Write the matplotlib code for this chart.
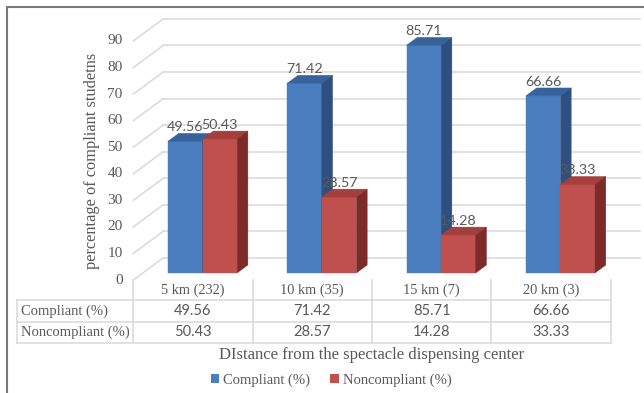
import matplotlib.pyplot as plt
from matplotlib.patches import Polygon, Patch, Rectangle

# data
categories = ['5 km (232)', '10 km (35)', '15 km (7)', '20 km (3)']
compliant = [49.56, 71.42, 85.71, 66.66]
noncompliant = [50.43, 28.57, 14.28, 33.33]
series_names = ['Compliant (%)', 'Noncompliant (%)']
y_ticks = list(range(0, 100, 10))

# colours: front / top / side faces
BLUE = ('#4a7ebf', '#37639c', '#2e5080')
RED = ('#c0504d', '#a33f3c', '#7c2b29')
TEXT = '#595959'
GRID = '#d9d9d9'

# oblique projection of the 3-D box
DX = 0.25          # x shift (category units) from front to back wall
DY = 8.3           # y shift (value units) from front to back wall
Z0, Z1 = 0.32, 0.68
BAR_W = 0.29

SERIF = 'Liberation Serif'
SANS = 'Lato'


def proj(x, v, z):
    return x + z * DX, v + z * DY


def draw_bar(ax, x0, x1, v, colors, z):
    front = [proj(x0, 0, Z0), proj(x1, 0, Z0), proj(x1, v, Z0), proj(x0, v, Z0)]
    top = [proj(x0, v, Z0), proj(x1, v, Z0), proj(x1, v, Z1), proj(x0, v, Z1)]
    side = [proj(x1, 0, Z0), proj(x1, 0, Z1), proj(x1, v, Z1), proj(x1, v, Z0)]
    for pts, c in zip((front, top, side), colors):
        ax.add_patch(Polygon(pts, closed=True, facecolor=c, edgecolor=c,
                             linewidth=0.3, zorder=z))


fig = plt.figure(figsize=(6.44, 3.93), dpi=100)
ax = fig.add_axes([0, 0, 1, 1])
# one category = 119.3 px, ten value units = 26.56 px
ax.set_xlim((0 - 193) / 119.3, (644 - 193) / 119.3)
ax.set_ylim((280 - 393) / 2.656, (280 - 0) / 2.656)
ax.axis('off')

n = len(categories)
left, right = -0.5, n - 0.5

# walls: back gridlines and side-wall diagonals
for v in y_ticks:
    bx0, by = proj(left, v, 1)
    bx1, _ = proj(right, v, 1)
    ax.plot([bx0, bx1], [by, by], color=GRID, lw=1.1, zorder=0.5)
    fx, fy = proj(left, v, 0)
    ax.plot([fx, bx0], [fy, by], color=GRID, lw=1.1, zorder=0.5)
    ax.text(fx - 0.09, fy, str(v), ha='right', va='center', fontsize=11,
            family=SERIF, color=TEXT)

ax.text(-0.85, 45, 'percentage of compliant studetns', rotation=90,
        ha='center', va='center', fontsize=11.8, family=SERIF, color=TEXT)

# columns and value labels
for i in range(n):
    draw_bar(ax, i - BAR_W, i, compliant[i], BLUE, 2 + 2 * i)
    draw_bar(ax, i, i + BAR_W, noncompliant[i], RED, 3 + 2 * i)
    for x0, v in ((i - BAR_W, compliant[i]), (i, noncompliant[i])):
        lx, ly = proj(x0 + BAR_W / 2, v, Z0)
        ax.text(lx, ly + 5.4, f'{v:.2f}', ha='center', va='center',
                fontsize=10.3, family=SANS, color=TEXT, zorder=20)

# data table
row_lines = [-7.53, -15.8, -23.7]
tab_left = (17 - 193) / 119.3
for x in [left + k for k in range(n + 1)]:
    ax.plot([x, x], [0, row_lines[-1]], color=GRID, lw=1.1)
ax.plot([tab_left, tab_left], [row_lines[0], row_lines[-1]], color=GRID, lw=1.1)
for y in row_lines:
    ax.plot([tab_left, right], [y, y], color=GRID, lw=1.1)

head_y = row_lines[0] / 2
row_y = [(row_lines[0] + row_lines[1]) / 2, (row_lines[1] + row_lines[2]) / 2]
for i, cat in enumerate(categories):
    ax.text(i, head_y, cat, ha='center', va='center', fontsize=10.4,
            family=SERIF, color=TEXT)
    ax.text(i, row_y[0], f'{compliant[i]:.2f}', ha='center', va='center',
            fontsize=10.5, family=SANS, color=TEXT)
    ax.text(i, row_y[1], f'{noncompliant[i]:.2f}', ha='center', va='center',
            fontsize=10.5, family=SANS, color=TEXT)
for name, y in zip(series_names, row_y):
    ax.text(tab_left + 0.03, y, name, ha='left', va='center', fontsize=10.5,
            family=SERIF, color=TEXT)

ax.text(1.5, -28.3, 'DIstance from the spectacle dispensing center',
        ha='center', va='center', fontsize=12, family=SERIF, color=TEXT)

handles = [Patch(facecolor=BLUE[0]), Patch(facecolor=RED[0])]
fig.legend(handles, series_names, loc='center', bbox_to_anchor=(331 / 644, 1 - 380 / 393),
           ncol=2, frameon=False, handlelength=0.6, handleheight=0.6,
           handletextpad=0.25, columnspacing=1.4,
           prop={'family': SERIF, 'size': 10.5}, labelcolor=TEXT)

# outer chart frame
fig.patches.append(Rectangle((7 / 644, -0.2), 1.2, 1.2 - 7 / 393, transform=fig.transFigure,
                             fill=False, edgecolor='#7a7a7a', linewidth=1.5))

fig.savefig('out.png', dpi=100)
